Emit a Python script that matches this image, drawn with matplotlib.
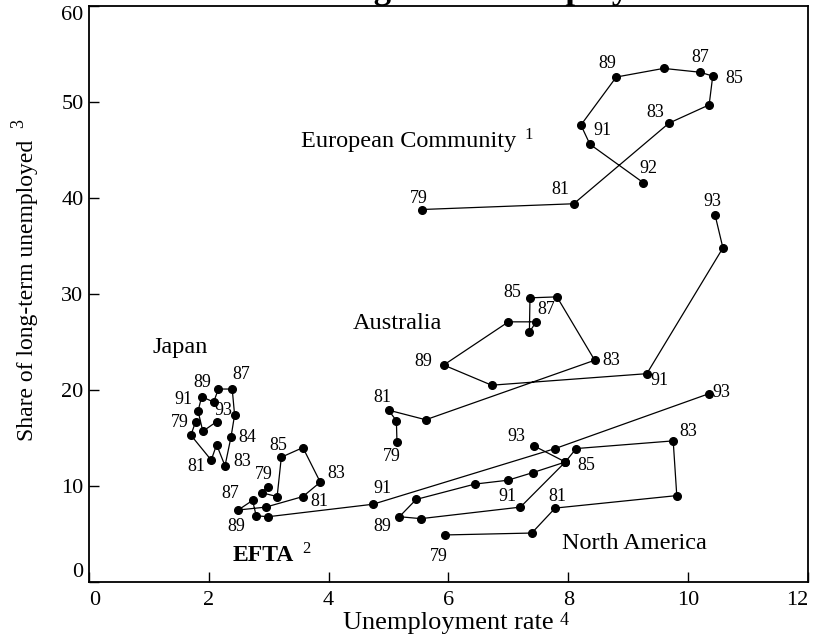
import matplotlib
matplotlib.use("Agg")
import matplotlib.pyplot as plt

plt.rcParams['font.family'] = ['Liberation Serif', 'DejaVu Serif']

# European Community
ec_x = [5.55, 8.09, 9.68, 10.35, 10.41, 10.20, 9.59, 8.80, 8.21, 8.36, 9.25]
ec_y = [38.8, 39.4, 47.8, 49.7, 52.7, 53.1, 53.5, 52.6, 47.6, 45.6, 41.6]
ec_years = ['79', '81', '83', '', '85', '87', '', '89', '', '91', '92']

# Australia, 1979-1993
au_x = [5.14, 5.13, 5.00, 5.62, 8.44, 7.81, 7.36, 7.35, 7.46, 7.00, 5.92, 6.72, 9.31, 10.58, 10.45]
au_y = [14.6, 16.8, 17.9, 16.9, 23.1, 29.7, 29.6, 26.0, 27.1, 27.1, 22.6, 20.5, 21.7, 34.8, 38.2]
au_years = ['79', '', '81', '', '83', '', '85', '', '87', '', '89', '', '91', '', '93']

# Japan
jp_x = [1.78, 1.70, 2.04, 2.13, 2.27, 2.37, 2.43, 2.39, 2.16, 2.08, 1.88, 1.82, 1.90, 2.13]
jp_y = [16.7, 15.3, 12.7, 14.3, 12.1, 15.1, 17.4, 20.1, 20.1, 18.75, 19.3, 17.8, 15.7, 16.7]
jp_years = ['79', '', '81', '', '83', '84', '', '87', '89', '', '91', '', '', '93']

# EFTA
ef_x = [2.98, 2.88, 3.14, 3.21, 3.57, 3.86, 3.57, 2.95, 2.49, 2.73, 2.79, 2.99, 4.74, 7.78, 10.34]
ef_y = [9.9, 9.3, 8.9, 13.0, 14.0, 10.4, 8.9, 7.8, 7.5, 8.5, 6.9, 6.8, 8.1, 13.9, 19.6]
ef_years = ['79', '', '', '85', '', '83', '81', '', '87', '', '89', '', '91', '', '93']

# North America
na_x = [5.94, 7.39, 7.78, 9.81, 9.75, 8.13, 7.95, 7.41, 6.99, 6.44, 5.46, 5.18, 5.54, 7.20, 7.95, 7.42]
na_y = [4.9, 5.1, 7.7, 9.0, 14.7, 13.9, 12.5, 11.4, 10.6, 10.2, 8.6, 6.8, 6.6, 7.8, 12.5, 14.2]
na_years = ['79', '', '81', '', '83', '', '85', '', '', '', '', '89', '', '91', '', '93']

# year label offsets (pixels from the point)
ec_off = {'79': (-3, 11), '81': (-13, 14), '83': (-14, 11), '85': (22, -2),
          '87': (0, 15), '89': (-9, 14), '91': (13, 14), '92': (5, 14)}
au_off = {'79': (-5, -15), '81': (-6, 13), '83': (17, 0), '85': (-18, 5),
          '87': (10, 12), '89': (-20, 4), '91': (13, -7), '93': (-3, 14)}
jp_off = {'79': (-16, -1), '81': (-15, -6), '83': (17, 4), '84': (16, 0),
          '87': (9, 15), '89': (-16, 7), '91': (-18, -3), '93': (7, 11)}
ef_off = {'79': (-4, 12), '85': (-3, 12), '83': (16, 9), '81': (16, -5),
          '87': (-8, 17), '89': (-20, -11), '91': (9, 16), '93': (13, 1)}
na_off = {'79': (-6, -22), '81': (2, 12), '83': (15, 9), '85': (21, -4),
          '89': (-17, -10), '91': (-13, 11), '93': (-17, 9)}


def draw_path(ax, xs, ys, years, offsets):
    ax.plot(xs, ys, color='black', lw=0.9, marker='o', ms=5.5,
            mfc='black', mec='black', zorder=3)
    for x, y, yr in zip(xs, ys, years):
        if yr:
            dx, dy = offsets[yr]
            ax.annotate(yr, (x, y), xytext=(dx, dy), textcoords='offset pixels',
                        ha='center', va='center', fontsize=13)


fig = plt.figure(figsize=(8.17, 6.42), dpi=100)
ax = fig.add_axes([89 / 817, 60 / 642, 719 / 817, 576 / 642])

draw_path(ax, ec_x, ec_y, ec_years, ec_off)
draw_path(ax, au_x, au_y, au_years, au_off)
draw_path(ax, jp_x, jp_y, jp_years, jp_off)
draw_path(ax, ef_x, ef_y, ef_years, ef_off)
draw_path(ax, na_x, na_y, na_years, na_off)

# group names
ec_txt = ax.text(5.34, 45.9, 'European Community', ha='center', va='center', fontsize=17.5)
ax.annotate('1', xy=(1, 1), xycoords=ec_txt, xytext=(8, 4), textcoords='offset pixels',
            ha='left', va='top', fontsize=12)
ax.text(5.15, 26.9, 'Australia', ha='center', va='center', fontsize=17.5)
ax.text(1.53, 24.4, 'Japan', ha='center', va='center', fontsize=17.5)
ef_txt = ax.text(2.91, 2.8, 'EFTA', ha='center', va='center', fontsize=17, fontweight='bold')
ax.annotate('2', xy=(1, 1), xycoords=ef_txt, xytext=(8, 4), textcoords='offset pixels',
            ha='left', va='top', fontsize=12)
ax.text(9.11, 4.0, 'North America', ha='center', va='center', fontsize=17.5)

ax.set_xlim(0, 12)
ax.set_ylim(0, 60)
ax.set_xticks(range(0, 13, 2))
ax.set_yticks(range(0, 61, 10))
ax.tick_params(direction='in', length=7.5, width=1, labelsize=16)
ax.tick_params(axis='x', pad=6.5)
ax.tick_params(axis='y', pad=4)
for sp in ax.spines.values():
    sp.set_linewidth(1.3)

# end labels sit inside the corners
xl = ax.get_xticklabels()
xl[0].set_ha('left')
xl[-1].set_ha('right')
yl = ax.get_yticklabels()
yl[0].set_va('bottom')
yl[-1].set_va('top')

ax.set_xlabel('Unemployment rate', fontsize=19)
ax.xaxis.set_label_coords(0.5, -0.0816)
ax.xaxis.label.set_va('baseline')
ax.set_ylabel('Share of long-term unemployed', fontsize=17)
ax.yaxis.set_label_coords(-0.071, 0.507)
ax.annotate('4', xy=(1, 1), xycoords=ax.xaxis.label, xytext=(6, 0), textcoords='offset pixels',
            ha='left', va='top', fontsize=13)
ax.annotate('3', xy=(0, 1), xycoords=ax.yaxis.label, xytext=(-7, 11), textcoords='offset pixels',
            ha='left', va='bottom', rotation=90, fontsize=13)

# heading sits just above the page edge
fig.text(314 / 817, 1 + 2 / 642, 'Long-term unemployment', fontsize=25,
         fontweight='bold', ha='left', va='baseline')

fig.savefig('out.png', dpi=100)
